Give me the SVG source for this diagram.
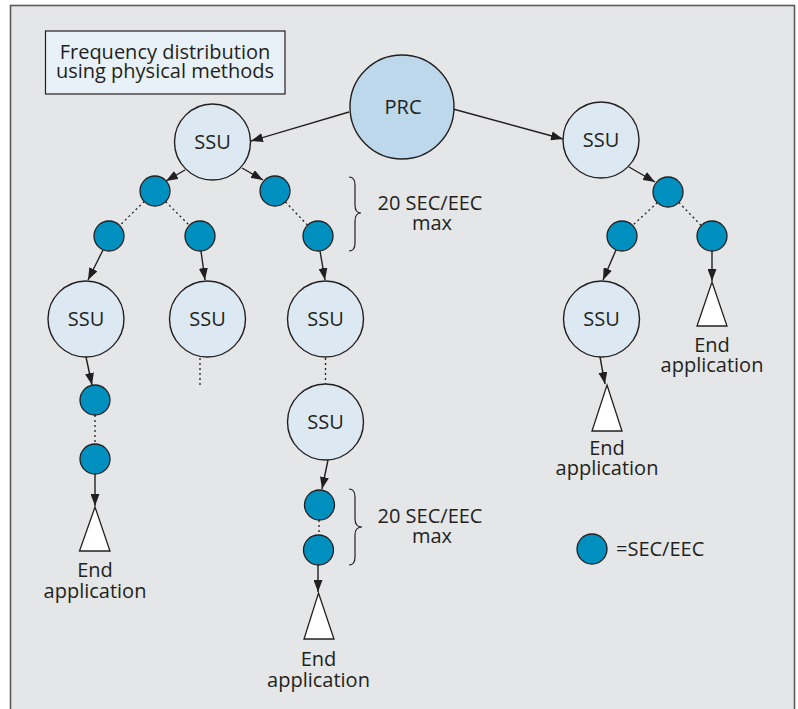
<svg xmlns="http://www.w3.org/2000/svg" width="798" height="709" viewBox="0 0 798 709">
  <defs>
    <marker id="arrow" viewBox="0 0 12 9" markerWidth="12" markerHeight="9" refX="12" refY="4.5" orient="auto" markerUnits="userSpaceOnUse">
      <path d="M0,0 L12,4.5 L0,9 z" fill="#231f20"/>
    </marker>
    <style>
      text { font-family: "Open Sans", "Noto Sans", "Liberation Sans", sans-serif; font-size: 20px; fill: #231f20; text-anchor: middle; }
      .prc { fill: #bcd8ea; stroke: #231f20; stroke-width: 1.4; }
      .ssu { fill: #dce9f3; stroke: #231f20; stroke-width: 1.4; }
      .sec { fill: #0090c0; stroke: #231f20; stroke-width: 1.3; }
      .app { fill: #ffffff; stroke: #231f20; stroke-width: 1.3; }
      .link { stroke: #231f20; stroke-width: 1.4; fill: none; }
      .arr { marker-end: url(#arrow); }
      .dot { stroke-dasharray: 2 3; stroke-width: 1.3; }
      .brace { stroke: #231f20; stroke-width: 1.2; fill: none; }
    </style>
  </defs>

  <!-- frame -->
  <rect x="10.5" y="5.5" width="784" height="720" fill="#e5e6e8" stroke="#5a5a5c" stroke-width="1.6"/>

  <!-- title box -->
  <g id="title">
    <rect x="45.5" y="31" width="239.5" height="63" fill="#e9f1f8" stroke="#231f20" stroke-width="1.2"/>
    <text x="165" y="59">Frequency distribution<tspan x="165" dy="19">using physical methods</tspan></text>
  </g>

  <!-- connectors -->
  <g id="connectors">
    <line class="link arr" x1="349" y1="112" x2="251" y2="141"/>
    <line class="link arr" x1="453" y1="109" x2="563" y2="139"/>
    <line class="link arr" x1="185" y1="170" x2="166" y2="181"/>
    <line class="link arr" x1="242" y1="168" x2="263" y2="180"/>
    <line class="link dot" x1="144.3" y1="201.5" x2="119.7" y2="225.5"/>
    <line class="link dot" x1="165.6" y1="201.6" x2="189.4" y2="225.4"/>
    <line class="link dot" x1="285.4" y1="201.9" x2="307.6" y2="225.2"/>
    <line class="link arr" x1="103" y1="250" x2="88" y2="280"/>
    <line class="link arr" x1="201" y1="251" x2="205" y2="280"/>
    <line class="link arr" x1="320" y1="251" x2="325" y2="280"/>
    <line class="link arr" x1="86" y1="357" x2="92" y2="385"/>
    <line class="link dot" x1="95" y1="415" x2="95" y2="444"/>
    <line class="link arr" x1="95" y1="474" x2="95" y2="506"/>
    <line class="link dot" x1="200" y1="358" x2="200" y2="385"/>
    <line class="link dot" x1="325.5" y1="358" x2="325.5" y2="384"/>
    <line class="link arr" x1="328" y1="460" x2="322" y2="489"/>
    <line class="link dot" x1="319" y1="520" x2="319" y2="535"/>
    <line class="link arr" x1="318" y1="565" x2="318" y2="592"/>
    <line class="link arr" x1="629" y1="167" x2="655" y2="182"/>
    <line class="link dot" x1="657.4" y1="202.6" x2="632.6" y2="225.4"/>
    <line class="link dot" x1="678.8" y1="202.4" x2="701.2" y2="225.6"/>
    <line class="link arr" x1="616" y1="250" x2="603" y2="280"/>
    <line class="link arr" x1="712" y1="251" x2="712" y2="281"/>
    <line class="link arr" x1="600" y1="357" x2="605" y2="384"/>
  </g>

  <!-- clocks -->
  <g id="prc">
    <circle class="prc" cx="402" cy="107" r="52"/>
    <text x="403" y="114">PRC</text>
  </g>
  <g id="ssu-top-left">
    <circle class="ssu" cx="212.5" cy="142" r="38"/>
    <text x="212.5" y="149">SSU</text>
  </g>
  <g id="ssu-top-right">
    <circle class="ssu" cx="601" cy="140" r="38"/>
    <text x="601" y="147">SSU</text>
  </g>
  <g id="ssu-a">
    <circle class="ssu" cx="86" cy="319" r="38"/>
    <text x="86" y="326">SSU</text>
  </g>
  <g id="ssu-b">
    <circle class="ssu" cx="207.5" cy="319" r="38"/>
    <text x="207.5" y="326">SSU</text>
  </g>
  <g id="ssu-c">
    <circle class="ssu" cx="325.5" cy="319" r="38"/>
    <text x="325.5" y="326">SSU</text>
  </g>
  <g id="ssu-d">
    <circle class="ssu" cx="325.5" cy="422" r="38"/>
    <text x="325.5" y="429">SSU</text>
  </g>
  <g id="ssu-e">
    <circle class="ssu" cx="601.5" cy="319" r="38"/>
    <text x="601.5" y="326">SSU</text>
  </g>

  <!-- SEC/EEC clocks -->
  <g id="sec-1"><circle class="sec" cx="155" cy="191" r="15"/></g>
  <g id="sec-2"><circle class="sec" cx="275" cy="191" r="15"/></g>
  <g id="sec-3"><circle class="sec" cx="109" cy="236" r="15"/></g>
  <g id="sec-4"><circle class="sec" cx="200" cy="236" r="15"/></g>
  <g id="sec-5"><circle class="sec" cx="318" cy="236" r="15"/></g>
  <g id="sec-6"><circle class="sec" cx="95" cy="400" r="15"/></g>
  <g id="sec-7"><circle class="sec" cx="95" cy="459" r="15"/></g>
  <g id="sec-8"><circle class="sec" cx="319.5" cy="505" r="15"/></g>
  <g id="sec-9"><circle class="sec" cx="318.5" cy="550" r="15"/></g>
  <g id="sec-10"><circle class="sec" cx="668" cy="192" r="15"/></g>
  <g id="sec-11"><circle class="sec" cx="622" cy="236" r="15"/></g>
  <g id="sec-12"><circle class="sec" cx="712" cy="236" r="15"/></g>

  <!-- end applications -->
  <g id="app-1">
    <polygon class="app" points="95,507 110,551 79.5,551"/>
    <text x="95" y="577">End<tspan x="95" dy="21">application</tspan></text>
  </g>
  <g id="app-2">
    <polygon class="app" points="318.5,593 334,639 304,639"/>
    <text x="318.5" y="666">End<tspan x="318.5" dy="21">application</tspan></text>
  </g>
  <g id="app-3">
    <polygon class="app" points="607,385 622,431 592,431"/>
    <text x="607" y="455">End<tspan x="607" dy="20">application</tspan></text>
  </g>
  <g id="app-4">
    <polygon class="app" points="712,282 727,326 697,326"/>
    <text x="712" y="352">End<tspan x="712" dy="20">application</tspan></text>
  </g>

  <!-- chain length notes -->
  <g id="note-1">
    <path class="brace" d="M349,177 Q355,177 355,185 L355,205 Q355,213 361,213 Q355,213 355,221 L355,243 Q355,251 349,251"/>
    <text x="430" y="210">20 SEC/EEC<tspan x="432" dy="20">max</tspan></text>
  </g>
  <g id="note-2">
    <path class="brace" d="M349,489 Q355,489 355,497 L355,519 Q355,527 362,527 Q355,527 355,535 L355,557 Q355,565 349,565"/>
    <text x="430" y="523">20 SEC/EEC<tspan x="432" dy="20">max</tspan></text>
  </g>

  <!-- legend -->
  <g id="legend">
    <circle class="sec" cx="592" cy="549" r="15"/>
    <text x="616" y="556" style="text-anchor:start">=SEC/EEC</text>
  </g>
</svg>
